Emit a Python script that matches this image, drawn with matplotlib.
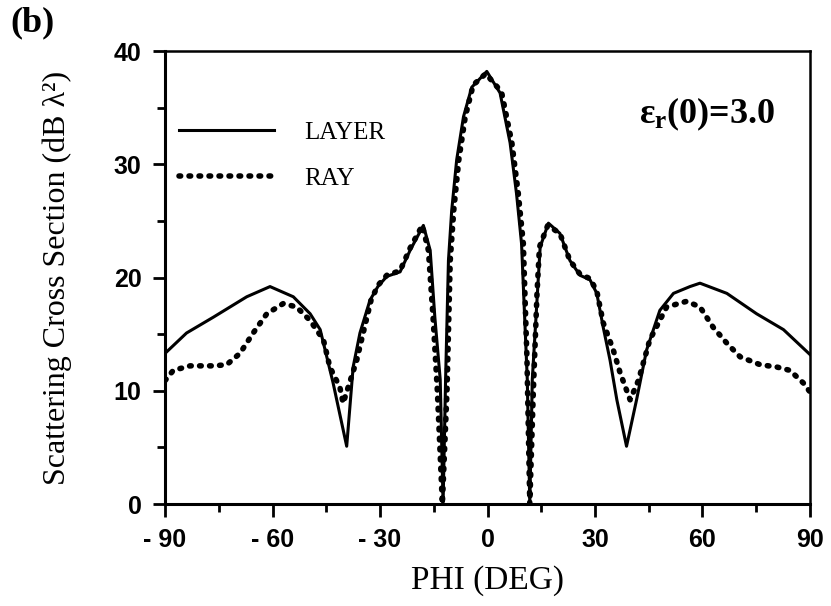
import matplotlib
matplotlib.use("Agg")
import matplotlib.pyplot as plt

# values (PHI in deg, sigma in dB lambda^2)
layer_phi = [-90, -84, -76.5, -67.2, -60.7, -54.2, -49.5, -46.7, -43.1, -39.3,
             -37.5, -35.6, -32.8, -30.6, -28.1, -24.4, -21.6, -17.9, -16.0, -14.7,
             -13.2, -12.4, -11.7, -10.9, -10.0, -8.6, -6.7, -4.4, -0.2, 3.5,
             6.3, 8.1, 9.5, 11.1, 11.8, 12.5, 14.7, 17.0, 20.2, 23.0,
             25.8, 28.6, 30.5, 32.3, 34.2, 36.1, 38.8, 41.6, 44.4, 48.1,
             51.9, 56.5, 59.3, 66.8, 75.1, 82.6, 90]
layer_db = [13.3, 15.1, 16.5, 18.3, 19.2, 18.3, 16.8, 15.4, 10.7, 5.1,
            12.1, 15.1, 18.0, 19.2, 20.1, 20.5, 22.4, 24.6, 22.4, 16.5,
            11.0, 0.0, 11.0, 21.5, 25.9, 30.4, 34.2, 36.8, 38.2, 36.3,
            31.9, 27.4, 23.0, 11.0, 0.0, 11.0, 22.7, 24.8, 23.9, 21.5,
            20.2, 19.8, 18.6, 15.6, 12.7, 9.2, 5.1, 9.2, 13.6, 17.1,
            18.6, 19.2, 19.5, 18.6, 16.8, 15.4, 13.2]

ray_phi = [-90, -87.7, -83.0, -76.5, -72.8, -69.1, -65.4, -61.6, -57.0, -53.3,
           -49.5, -45.8, -44.0, -41.2, -40.3, -38.4, -36.5, -34.7, -32.5, -30.6,
           -28.1, -24.4, -21.6, -18.2, -16.5, -15.2, -14.0, -12.6, -11.3, -10.4,
           -9.4, -8.0, -6.2, -4.0, -0.5, 3.9, 6.8, 8.6, 10.0, 11.0,
           11.8, 12.8, 13.8, 14.5, 16.8, 20.2, 23.0, 25.8, 28.6, 30.5,
           32.3, 35.1, 37.0, 39.8, 42.1, 45.3, 50.0, 55.6, 59.3, 63.0,
           66.8, 70.5, 76.1, 80.7, 84.4, 88.1, 90]
ray_db = [10.9, 11.8, 12.2, 12.2, 12.3, 13.3, 15.1, 16.8, 17.7, 17.4,
          16.2, 14.5, 12.1, 10.3, 8.9, 10.8, 12.7, 15.1, 18.0, 19.3,
          20.2, 20.6, 22.6, 24.6, 22.4, 16.5, 10.0, 0.0, 10.0, 21.5,
          26.0, 30.4, 34.2, 37.0, 38.0, 36.4, 31.9, 27.4, 23.0, 13.0,
          0.0, 10.0, 18.5, 22.7, 24.6, 23.9, 21.5, 20.3, 19.9, 18.8,
          16.0, 13.6, 11.6, 9.2, 10.9, 14.5, 17.4, 17.9, 17.4, 15.6,
          14.2, 13.0, 12.3, 12.1, 11.8, 10.7, 9.9]

x_ticks = [-90, -60, -30, 0, 30, 60, 90]
x_labels = ["- 90", "- 60", "- 30", "0", "30", "60", "90"]
y_ticks = [0, 10, 20, 30, 40]

plt.rcParams["mathtext.fontset"] = "custom"
plt.rcParams["mathtext.bf"] = "Liberation Serif:bold"
plt.rcParams["mathtext.rm"] = "Liberation Serif"

fig = plt.figure(figsize=(8.31, 6.06), dpi=100)
ax = fig.add_axes([0.1986, 0.1683, 0.7761, 0.7475])

ax.plot(layer_phi, layer_db, color="black", lw=2.2, label="LAYER",
        solid_joinstyle="round")
ax.plot(ray_phi, ray_db, color="black", lw=4.0, linestyle=(0, (0.3, 1.5)),
        dash_capstyle="round", label="RAY")

ax.set_xlim(-90, 90)
ax.set_ylim(0, 40)
ax.set_xticks(x_ticks)
ax.set_xticklabels(x_labels)
ax.set_yticks(y_ticks)
ax.set_xticks(range(-90, 91, 15), minor=True)
ax.set_yticks(range(0, 41, 5), minor=True)

ax.tick_params(which="major", direction="out", length=9, width=2, pad=8,
               labelsize=18, labelfontfamily="Liberation Sans")
ax.tick_params(which="minor", direction="out", length=6, width=2)
ax.tick_params(axis="x", which="both", top=False)
ax.tick_params(axis="y", which="both", right=False)
for lab in ax.get_xticklabels() + ax.get_yticklabels():
    lab.set_fontweight("bold")

for side in ["left", "bottom"]:
    ax.spines[side].set_linewidth(2.2)
for side in ["top", "right"]:
    ax.spines[side].set_linewidth(1.8)

ax.set_xlabel("PHI (DEG)", fontfamily="Liberation Serif", fontsize=24,
              labelpad=10)
ax.set_ylabel("Scattering Cross Section (dB λ²)", fontfamily="Liberation Serif",
              fontsize=23, labelpad=30)

ax.text(0.946, 0.86, r"$\mathbf{ε_r(0)}$=3.0", transform=ax.transAxes,
        fontsize=26, fontfamily="Liberation Serif", fontweight="bold",
        ha="right", va="center")

ax.legend(loc="upper left", bbox_to_anchor=(0.022, 0.845), frameon=False,
          borderaxespad=0, borderpad=0, handlelength=3.8, handletextpad=1.2,
          labelspacing=0.95, prop={"family": "Liberation Serif", "size": 18})

fig.text(0.012, 0.962, "(b)", fontfamily="Liberation Serif", fontweight="bold",
         fontsize=26, va="center", ha="left")

fig.savefig("out.png", dpi=100)
